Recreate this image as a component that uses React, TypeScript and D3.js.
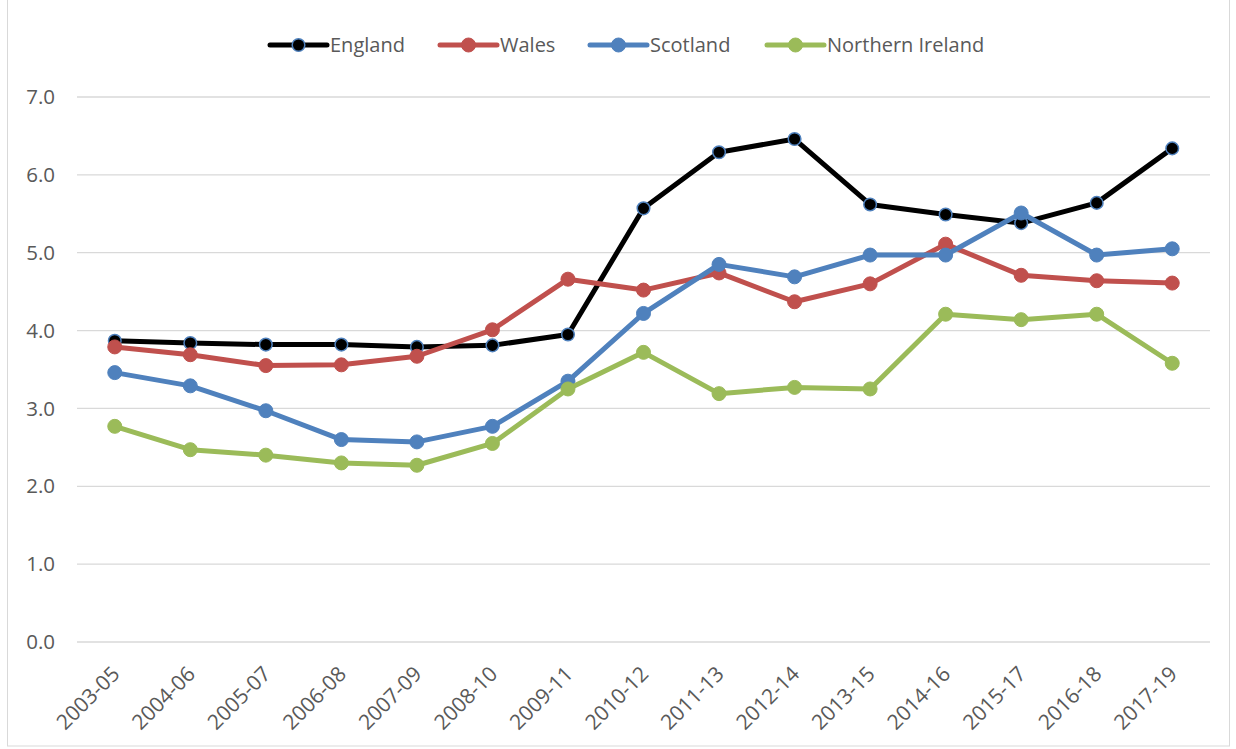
import * as d3 from 'd3'
import { useEffect, useRef } from 'react'

const periods = [
  '2003-05', '2004-06', '2005-07', '2006-08', '2007-09', '2008-10', '2009-11', '2010-12',
  '2011-13', '2012-14', '2013-15', '2014-16', '2015-17', '2016-18', '2017-19',
]
const england = [3.87, 3.84, 3.82, 3.82, 3.79, 3.81, 3.95, 5.57, 6.29, 6.46, 5.62, 5.49, 5.38, 5.64, 6.34]
const wales = [3.79, 3.69, 3.55, 3.56, 3.67, 4.01, 4.66, 4.52, 4.74, 4.37, 4.6, 5.11, 4.71, 4.64, 4.61]
const scotland = [3.46, 3.29, 2.97, 2.6, 2.57, 2.77, 3.35, 4.22, 4.85, 4.69, 4.97, 4.97, 5.51, 4.97, 5.05]
const northernIreland = [2.77, 2.47, 2.4, 2.3, 2.27, 2.55, 3.25, 3.72, 3.19, 3.27, 3.25, 4.21, 4.14, 4.21, 3.58]
const yTicks = [0, 1, 2, 3, 4, 5, 6, 7]

const seriesNames = ['England', 'Wales', 'Scotland', 'Northern Ireland']
const seriesValues = [england, wales, scotland, northernIreland]
const colors = ['#000000', '#c0504d', '#4f81bd', '#9bbb59']

export default function App() {
  const ref = useRef<SVGSVGElement>(null)

  useEffect(() => {
    const svg = d3.select(ref.current)
    svg.selectAll('*').remove()
    const font = '"Open Sans", "Noto Sans", sans-serif'

    // chart border
    svg.append('rect')
      .attr('x', 7.5).attr('y', -1)
      .attr('width', 1222).attr('height', 747)
      .attr('fill', 'white').attr('stroke', '#d9d9d9')

    const x = d3.scaleBand().domain(periods).range([77, 1210])
    const y = d3.scaleLinear().domain([0, 7]).range([642, 97])
    const cx = (i: number) => (x(periods[i]) as number) + x.bandwidth() / 2

    // gridlines
    svg.append('g')
      .selectAll('line')
      .data(yTicks)
      .join('line')
      .attr('x1', 77).attr('x2', 1210)
      .attr('y1', d => y(d)).attr('y2', d => y(d))
      .attr('stroke', '#d9d9d9').attr('stroke-width', 1.3)

    // y labels
    svg.append('g')
      .selectAll('text')
      .data(yTicks)
      .join('text')
      .attr('x', 55).attr('y', d => y(d))
      .attr('dy', '0.35em')
      .attr('text-anchor', 'end')
      .attr('font-family', font).attr('font-size', 20.5)
      .attr('fill', '#595959')
      .text(d => d.toFixed(1))

    // x labels
    svg.append('g')
      .selectAll('text')
      .data(periods)
      .join('text')
      .attr('transform', (d, i) => `translate(${cx(i) + 1},${670}) rotate(-45)`)
      .attr('text-anchor', 'end')
      .attr('dy', '0.35em')
      .attr('font-family', font).attr('font-size', 21)
      .attr('fill', '#595959')
      .text(d => d)

    const line = d3.line<number>()
      .x((d, i) => cx(i))
      .y(d => y(d))

    seriesValues.forEach((vals, s) => {
      const g = svg.append('g')
      g.append('path')
        .datum(vals)
        .attr('d', line)
        .attr('fill', 'none')
        .attr('stroke', colors[s])
        .attr('stroke-width', 5)
        .attr('stroke-linejoin', 'round')
      g.selectAll('circle')
        .data(vals)
        .join('circle')
        .attr('cx', (d, i) => cx(i))
        .attr('cy', d => y(d))
        .attr('r', s === 0 ? 6.3 : 7)
        .attr('fill', colors[s])
        .attr('stroke', s === 0 ? '#4f81bd' : colors[s])
        .attr('stroke-width', s === 0 ? 1.5 : 1)
    })

    // legend
    const legendX = [270, 440, 590, 767]
    const legend = svg.append('g')
    seriesNames.forEach((name, s) => {
      const lg = legend.append('g').attr('transform', `translate(${legendX[s]},45)`)
      lg.append('line')
        .attr('x1', 0).attr('x2', 57)
        .attr('stroke', colors[s]).attr('stroke-width', 5)
        .attr('stroke-linecap', 'round')
      lg.append('circle')
        .attr('cx', 28.5).attr('r', s === 0 ? 6.3 : 7)
        .attr('fill', colors[s])
        .attr('stroke', s === 0 ? '#4f81bd' : colors[s])
        .attr('stroke-width', s === 0 ? 1.5 : 1)
      lg.append('text')
        .attr('x', 60).attr('dy', '0.35em')
        .attr('font-family', font).attr('font-size', 20)
        .attr('fill', '#595959')
        .text(name)
    })
  }, [])

  return (
    <svg
      ref={ref}
      width={1236}
      height={749}
      style={{ position: 'absolute', left: 0, top: 0, display: 'block' }}
    />
  )
}
